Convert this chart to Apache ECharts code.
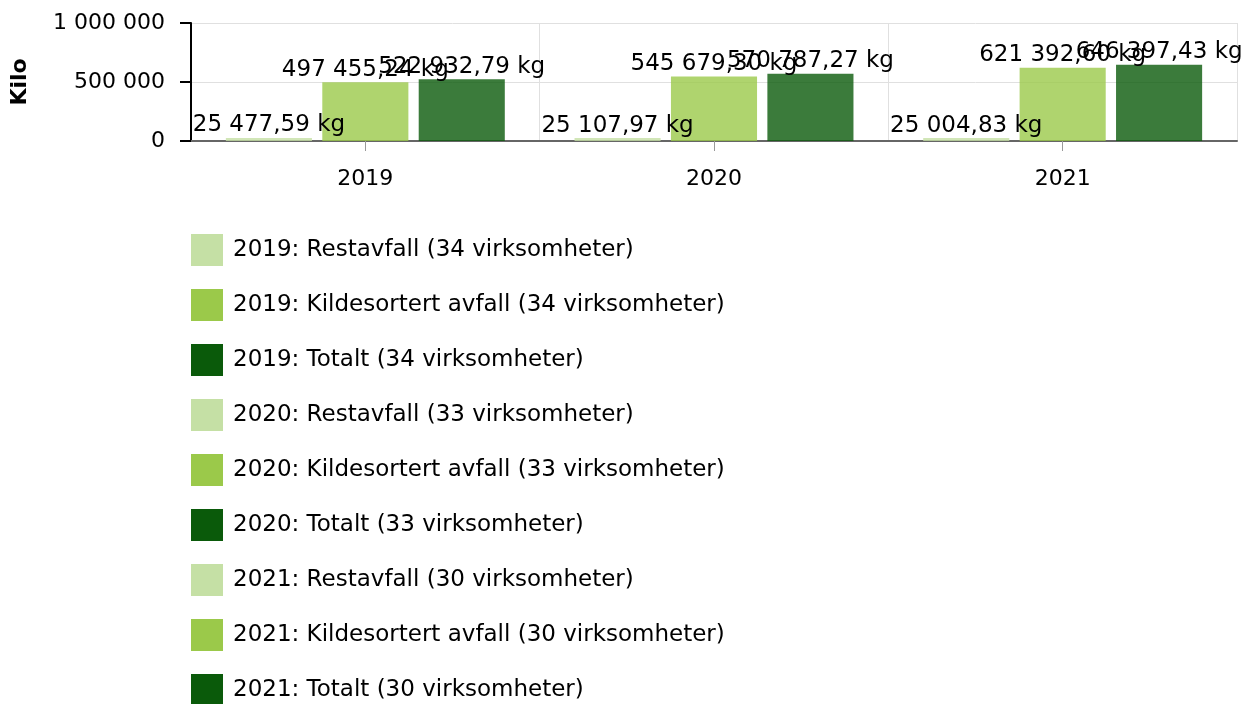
<!DOCTYPE html>
<html>
<head>
<meta charset="utf-8">
<script src="https://cdn.jsdelivr.net/npm/echarts@6/dist/echarts.min.js"></script>
<style>
  html, body { margin: 0; padding: 0; background: #fff; }
  #main { width: 1251px; height: 704px; }
</style>
</head>
<body>
<div id="main"></div>
<script>
// data
var years = ['2019', '2020', '2021'];
var antall = [34, 33, 30];
var restavfall = [25477.59, 25107.97, 25004.83];
var kildesortert = [497455.24, 545679.30, 621392.60];
var totalt = [522932.79, 570787.27, 646397.43];
var yTicks = [0, 500000, 1000000];

// farge i forklaring, og søylen tegnes med 80 % dekkevne
var typer = [
    { navn: 'Restavfall', stack: 'rest', verdier: restavfall, farge: '#c5e0a5', rgb: '197,224,165' },
    { navn: 'Kildesortert avfall', stack: 'kilde', verdier: kildesortert, farge: '#9bc94a', rgb: '155,201,74' },
    { navn: 'Totalt', stack: 'tot', verdier: totalt, farge: '#0a5a0a', rgb: '10,90,10' }
];

var FONT = 'DejaVu Sans';

function tall(v, des) {
    var s = v.toFixed(des);
    var deler = s.split('.');
    var heltall = deler[0].replace(/\B(?=(\d{3})+(?!\d))/g, ' ');
    return deler.length > 1 ? heltall + ',' + deler[1] : heltall;
}

// en serie per år og type, samme stack per type slik at søylene havner side om side
var series = [];
var legendData = [];
years.forEach(function (aar, i) {
    typer.forEach(function (t) {
        var navn = aar + ': ' + t.navn + ' (' + antall[i] + ' virksomheter)';
        var data = years.map(function (a, j) { return j === i ? t.verdier[i] : null; });
        series.push({
            name: navn,
            type: 'bar',
            stack: t.stack,
            data: data,
            barCategoryGap: '20%',
            barGap: '12%',
            itemStyle: { color: 'rgba(' + t.rgb + ',0.8)' },
            label: {
                show: true,
                position: 'top',
                distance: 1,
                color: '#000',
                fontSize: 23,
                fontFamily: FONT,
                formatter: function (p) { return tall(p.value, 2) + ' kg'; }
            }
        });
        legendData.push({ name: navn, itemStyle: { color: t.farge } });
    });
});

var myChart = echarts.init(document.getElementById('main'));

var option = {
    animation: false,
    textStyle: { fontFamily: FONT },
    grid: { left: 191, right: 14, top: 23, height: 118 },
    legend: {
        orient: 'vertical',
        left: 186,
        top: 229,
        height: 1000,
        itemWidth: 32,
        itemHeight: 32,
        itemGap: 23,
        icon: 'rect',
        textStyle: { fontSize: 23, color: '#000', fontFamily: FONT, padding: [0, 0, 0, 5] },
        data: legendData
    },
    xAxis: {
        type: 'category',
        data: years,
        axisLine: { lineStyle: { color: '#666', width: 2 } },
        axisTick: { show: true, alignWithLabel: true, length: 10, lineStyle: { color: '#999' } },
        axisLabel: { fontSize: 22, color: '#000', margin: 27 },
        splitLine: { show: true, interval: 0, lineStyle: { color: '#e0e0e0' } }
    },
    yAxis: {
        type: 'value',
        min: yTicks[0],
        max: yTicks[yTicks.length - 1],
        interval: yTicks[1] - yTicks[0],
        name: 'Kilo',
        nameLocation: 'middle',
        nameGap: 160,
        nameRotate: 90,
        nameTextStyle: { fontSize: 22, fontWeight: 'bold', color: '#000' },
        axisLine: { show: true, lineStyle: { color: '#000', width: 2 } },
        axisTick: { show: true, inside: false, length: 11, lineStyle: { color: '#000', width: 2 } },
        axisLabel: {
            fontSize: 22, color: '#000', margin: 26,
            formatter: function (v) { return tall(v, 0); }
        },
        splitLine: { show: true, lineStyle: { color: '#e0e0e0' } }
    },
    series: series
};

myChart.setOption(option);
</script>
</body>
</html>
